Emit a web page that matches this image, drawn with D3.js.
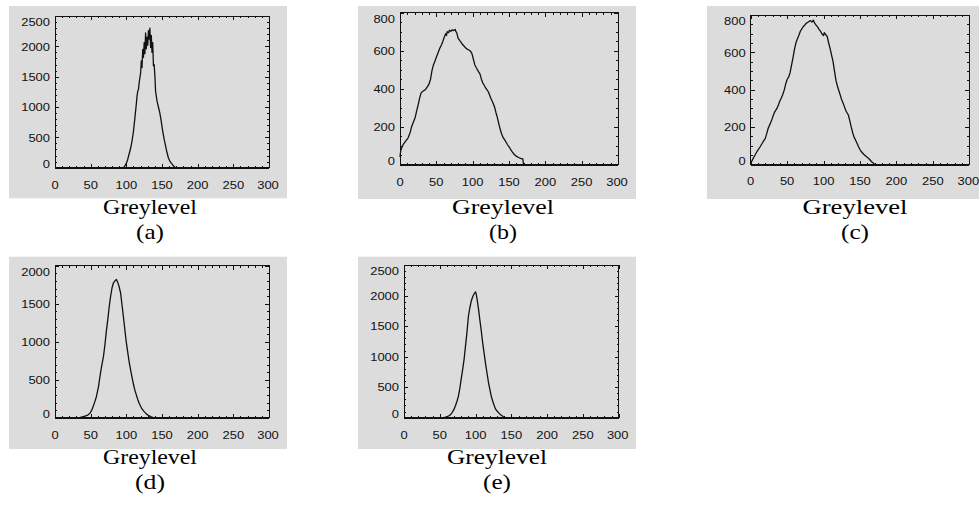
<!DOCTYPE html>
<html><head><meta charset="utf-8">
<script src="https://cdn.jsdelivr.net/npm/d3@7"></script>
<style>body{margin:0;background:#fff;} svg{display:block;}
.num{font-family:'Liberation Sans', Arial, sans-serif;}
.ser{font-family:'Liberation Serif', 'Times New Roman', Times, serif; font-weight:400;}
</style>
</head><body>
<svg id="chart" width="979" height="508"></svg>
<script>
// ---------- data ----------
const xTickValues = [0, 50, 100, 150, 200, 250, 300];
const yTicksA = [0, 500, 1000, 1500, 2000, 2500];
const yTicksB = [0, 200, 400, 600, 800];
const yTicksC = [0, 200, 400, 600, 800];
const yTicksD = [0, 500, 1000, 1500, 2000];
const yTicksE = [0, 500, 1000, 1500, 2000, 2500];
const xAxisTitle = "Greylevel";
const captions = ["(a)", "(b)", "(c)", "(d)", "(e)"];

const histA = [[94,0],[96,5],[98,30],[100,70],[102,140],[104,230],[106,320],[108,440],[110,600],[112,820],[114,1050],[115,1180],[116,1260],[117,1290],[118,1400],[119,1480],[120,1560],[121,1760],[122,1650],[123,1950],[124,1820],[125,2060],[126,1880],[127,2220],[128,1960],[129,2150],[130,2020],[131,2260],[132,2120],[133,2300],[134,1980],[135,2180],[136,1900],[137,2060],[138,1680],[139,1700],[140,1520],[141,1260],[142,1180],[143,1100],[145,1000],[147,900],[149,760],[151,600],[153,470],[155,360],[157,250],[159,160],[161,110],[163,75],[165,45],[167,20],[169,0]];

const histB = [[0,40],[1,75],[3,95],[5,110],[8,125],[11,140],[14,170],[16,200],[19,230],[21,250],[23,285],[25,315],[27,350],[29,378],[32,388],[35,395],[38,412],[40,425],[42,450],[44,495],[46,525],[48,545],[50,565],[52,585],[55,615],[57,630],[59,650],[61,672],[63,690],[64,680],[65,700],[67,695],[68,708],[70,702],[72,710],[74,706],[76,712],[77,700],[78,695],[80,665],[82,655],[85,638],[88,625],[91,612],[94,605],[97,598],[99,585],[101,555],[103,525],[105,510],[108,490],[110,478],[112,450],[114,430],[117,410],[120,393],[122,380],[125,350],[128,325],[130,305],[132,275],[134,248],[136,215],[138,185],[140,160],[142,142],[145,125],[148,105],[151,88],[154,70],[157,55],[160,45],[163,38],[166,33],[169,30],[170,0]];

const histC = [[0,5],[3,30],[6,51],[9,72],[13,95],[16,115],[20,140],[22,165],[24,194],[27,220],[29,240],[31,262],[33,282],[36,300],[38,318],[40,340],[42,356],[44,375],[46,398],[48,430],[50,455],[52,468],[54,490],[56,530],[58,570],[60,615],[62,650],[64,672],[66,690],[68,712],[70,725],[72,737],[74,745],[76,755],[78,760],[80,765],[82,770],[84,762],[86,772],[88,755],[90,745],[92,735],[94,722],[96,712],[98,698],[100,690],[101,705],[103,695],[105,685],[107,650],[109,620],[111,585],[113,550],[115,500],[117,450],[119,420],[121,395],[123,370],[125,345],[127,327],[129,305],[131,285],[134,265],[136,235],[138,200],[140,170],[142,145],[145,122],[148,95],[150,80],[152,68],[155,55],[159,42],[162,32],[166,15],[169,5],[170,0]];

const histD = [[35,0],[38,12],[42,20],[46,35],[49,58],[52,110],[54,160],[56,215],[58,276],[61,410],[63,539],[65,660],[68,810],[70,960],[72,1140],[74,1290],[76,1460],[78,1600],[80,1710],[82,1775],[84,1800],[86,1820],[88,1780],[90,1720],[92,1640],[94,1480],[96,1320],[98,1150],[100,990],[102,860],[104,730],[106,630],[108,530],[110,440],[112,360],[114,300],[116,240],[118,190],[120,150],[122,115],[125,80],[128,50],[131,30],[134,15],[137,5],[140,0]];

const histE = [[55,0],[58,8],[61,20],[64,40],[67,80],[70,140],[72,200],[74,270],[76,350],[78,480],[80,640],[82,790],[84,960],[86,1180],[88,1400],[90,1660],[92,1800],[94,1910],[96,1980],[98,2030],[100,2060],[101,2020],[102,1950],[104,1790],[106,1600],[108,1420],[110,1220],[112,1050],[114,880],[116,730],[118,580],[120,460],[122,350],[124,270],[126,200],[128,140],[130,110],[133,70],[136,40],[139,15],[142,0]];

// ---------- layout ----------
const panels = [
  {data: histA, yTicks: yTicksA, yMinor: 100, bg:[9,6,278,192.3],   box:[55,16,269,167.7],     title:[150,213.5,94],  cap:[150,239,28]},
  {data: histB, yTicks: yTicksB, yMinor: 50,  bg:[358,6,278,193],   box:[400,12.7,618,164.7],  title:[503,213.5,102], cap:[503,239,28]},
  {data: histC, yTicks: yTicksC, yMinor: 50,  bg:[707,6,280,193],   box:[750.7,15,969.3,164.5],title:[855,213.5,105], cap:[855,239,28]},
  {data: histD, yTicks: yTicksD, yMinor: 100, bg:[9,256.7,278,192.3],box:[55,265.7,269,417.7], title:[150,463.5,94],  cap:[150,489,30]},
  {data: histE, yTicks: yTicksE, yMinor: 100, bg:[358,256.7,278,192.3],box:[404,265,618.7,417.7],title:[497,463.5,100],cap:[497,489,28]}
];

const svg = d3.select("#chart");
const digitW = 7.2;

function stretchedText(g, str, cx, baseline, width, size) {
  const t = g.append("text").attr("class", "ser").attr("font-size", size).attr("fill", "#000")
    .attr("text-anchor", "middle").text(str);
  const w = t.node().getComputedTextLength() || width;
  t.attr("transform", `translate(${cx},${baseline}) scale(${width / w},1)`);
}

panels.forEach((p, i) => {
  const g = svg.append("g");
  const [bx, by, bw, bh] = p.bg;
  g.append("rect").attr("x", bx).attr("y", by).attr("width", bw).attr("height", bh).attr("fill", "#dcdcdc");

  const [x0, y0, x1, y1] = p.box;
  const yMax = d3.max(p.yTicks);
  const x = d3.scaleLinear().domain([0, 300]).range([x0, x1]);
  const y = d3.scaleLinear().domain([0, yMax]).range([y1, y0]);

  const xMinor = d3.range(0, 301, 10).filter(v => v % 50 !== 0);
  const yMajorStep = p.yTicks[1] - p.yTicks[0];
  const yMinor = d3.range(0, yMax + 1, p.yMinor).filter(v => v % yMajorStep !== 0);

  const addAxis = (gen, tr) => {
    const a = g.append("g").attr("transform", tr).call(gen);
    a.select(".domain").remove();
    a.selectAll("line").attr("stroke", "#111").attr("shape-rendering", "crispEdges");
    a.selectAll("text").remove();
  };
  addAxis(d3.axisBottom(x).tickValues(xMinor).tickSize(-2), `translate(0,${y1})`);
  addAxis(d3.axisTop(x).tickValues(xMinor).tickSize(-2), `translate(0,${y0})`);
  addAxis(d3.axisLeft(y).tickValues(yMinor).tickSize(-2), `translate(${x0},0)`);
  addAxis(d3.axisRight(y).tickValues(yMinor).tickSize(-2), `translate(${x1},0)`);
  addAxis(d3.axisBottom(x).tickValues(xTickValues).tickSize(-4), `translate(0,${y1})`);
  addAxis(d3.axisTop(x).tickValues(xTickValues).tickSize(-4), `translate(0,${y0})`);
  addAxis(d3.axisLeft(y).tickValues(p.yTicks).tickSize(-4), `translate(${x0},0)`);
  addAxis(d3.axisRight(y).tickValues(p.yTicks).tickSize(-4), `translate(${x1},0)`);

  g.append("rect").attr("x", x0).attr("y", y0).attr("width", x1 - x0).attr("height", y1 - y0)
    .attr("fill", "none").attr("stroke", "#111").attr("stroke-width", 1).attr("shape-rendering", "crispEdges");
  g.append("line").attr("x1", x0).attr("x2", x1).attr("y1", y1 + 0.5).attr("y2", y1 + 0.5)
    .attr("stroke", "#111").attr("stroke-width", 1).attr("shape-rendering", "crispEdges");

  g.append("path").datum(p.data)
    .attr("d", d3.line().x(d => x(d[0])).y(d => y(d[1])))
    .attr("fill", "none").attr("stroke", "#111").attr("stroke-width", 1.3).attr("stroke-linejoin", "round");

  g.selectAll(".xl").data(xTickValues).enter().append("text").attr("class", "num")
    .attr("x", d => x(d) - (d === 300 ? 1 : 0)).attr("y", y1 + 20.8)
    .attr("text-anchor", "middle")
    .attr("textLength", d => String(d).length * digitW).attr("lengthAdjust", "spacingAndGlyphs")
    .attr("font-size", 11.5).attr("fill", "#111")
    .text(d => d);

  g.selectAll(".yl").data(p.yTicks).enter().append("text").attr("class", "num")
    .attr("x", x0 - 5)
    .attr("y", d => {
      let c = y(d);
      c = Math.max(c, y0 + 6.2);
      c = Math.min(c, y1 - 3.5);
      return c + 4.2;
    })
    .attr("text-anchor", "end")
    .attr("textLength", d => String(d).length * digitW).attr("lengthAdjust", "spacingAndGlyphs")
    .attr("font-size", 11.5).attr("fill", "#111")
    .text(d => d);

  const [tx, ty, tw] = p.title;
  stretchedText(g, xAxisTitle, tx, ty, tw, 21);
  const [cx, cy, cw] = p.cap;
  stretchedText(g, captions[i], cx, cy, cw, 21);
});
</script>
</body></html>
